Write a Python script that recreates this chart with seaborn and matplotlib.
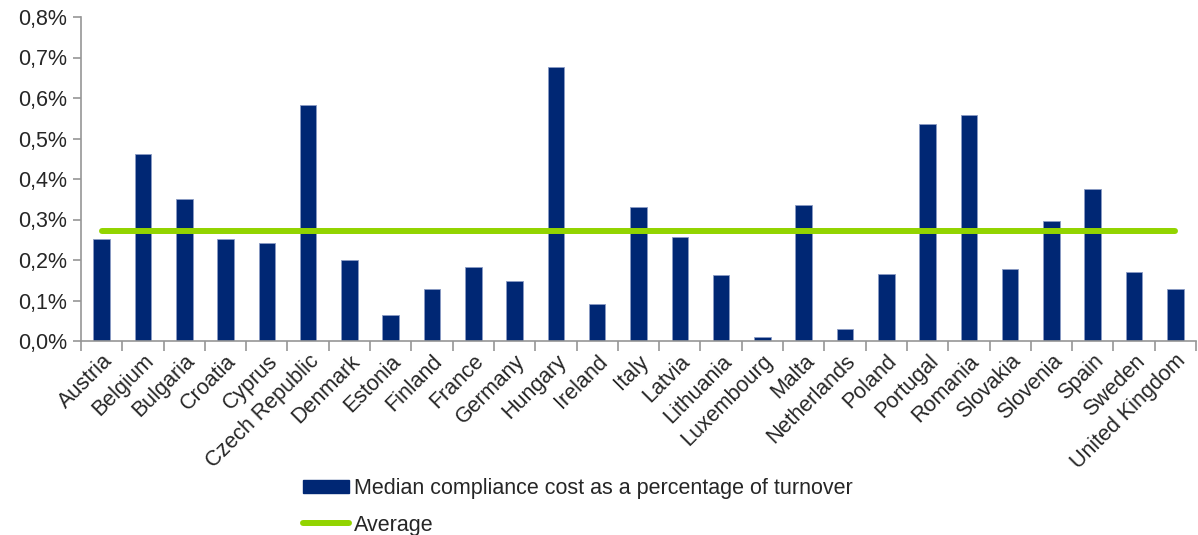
import matplotlib
matplotlib.use("Agg")
import matplotlib.pyplot as plt
import seaborn as sns
import pandas as pd
from matplotlib.patches import Patch
from matplotlib.lines import Line2D
from matplotlib.ticker import FuncFormatter, FixedLocator

countries = ["Austria", "Belgium", "Bulgaria", "Croatia", "Cyprus", "Czech Republic",
             "Denmark", "Estonia", "Finland", "France", "Germany", "Hungary", "Ireland",
             "Italy", "Latvia", "Lithuania", "Luxembourg", "Malta", "Netherlands", "Poland",
             "Portugal", "Romania", "Slovakia", "Slovenia", "Spain", "Sweden", "United Kingdom"]
median_cost = [0.252, 0.462, 0.351, 0.252, 0.242, 0.583, 0.200, 0.064, 0.128, 0.183,
               0.149, 0.676, 0.091, 0.332, 0.256, 0.162, 0.010, 0.335, 0.030, 0.165,
               0.535, 0.558, 0.177, 0.297, 0.375, 0.170, 0.128]
average = [0.272] * len(countries)
y_ticks = [0.0, 0.1, 0.2, 0.3, 0.4, 0.5, 0.6, 0.7, 0.8]

bar_color = "#002774"
line_color = "#92D400"
fs = 15.5

sns.set_style("white")
plt.rcParams["font.family"] = ["Liberation Sans", "DejaVu Sans"]

df = pd.DataFrame({"country": countries, "cost": median_cost, "avg": average})

fig = plt.figure(figsize=(11.98, 5.35), dpi=100)
ax = fig.add_axes([81 / 1198, 1 - 341 / 535, (1196 - 81) / 1198, (341 - 17) / 535])

sns.barplot(data=df, x="country", y="cost", color=bar_color, width=0.4,
            edgecolor="#8a9bc4", linewidth=0.6, saturation=1, ax=ax)
ax.plot(range(len(countries)), df["avg"], color=line_color, lw=4.3,
        solid_capstyle="round", zorder=3)

n = len(countries)
ax.set_xlim(-0.5, n - 0.5)
ax.set_ylim(0, 0.8)
ax.set_yticks(y_ticks)
ax.yaxis.set_major_formatter(FuncFormatter(lambda v, p: f"{v:.1f}%".replace(".", ",")))
ax.set_xlabel("")
ax.set_ylabel("")

ax.set_xticks(range(n))
ax.set_xticklabels(countries, rotation=45, ha="right", rotation_mode="anchor", fontsize=fs)
ax.tick_params(axis="x", which="major", length=0, pad=7, bottom=True)
ax.xaxis.set_minor_locator(FixedLocator([i - 0.5 for i in range(n + 1)]))
ax.tick_params(axis="x", which="minor", length=7, color="#969696", width=1.2,
               direction="out", bottom=True)
ax.tick_params(axis="y", length=6, color="#969696", width=1.2, direction="out",
               labelsize=fs, pad=4, left=True)

for s in ["top", "right"]:
    ax.spines[s].set_visible(False)
for s in ["left", "bottom"]:
    ax.spines[s].set_color("#969696")
    ax.spines[s].set_linewidth(1.2)

handles = [Patch(facecolor=bar_color, edgecolor=bar_color),
           Line2D([0], [0], color=line_color, lw=4.3, solid_capstyle="round")]
labels = ["Median compliance cost as a percentage of turnover", "Average"]
fig.legend(handles, labels, loc="upper left", bbox_to_anchor=(303 / 1198, 1 - 478 / 535),
           frameon=False, fontsize=fs, handlelength=2.15, handleheight=0.55,
           handletextpad=0.2, labelspacing=0.72, borderaxespad=0, borderpad=0)

fig.savefig("out.png", dpi=100)
